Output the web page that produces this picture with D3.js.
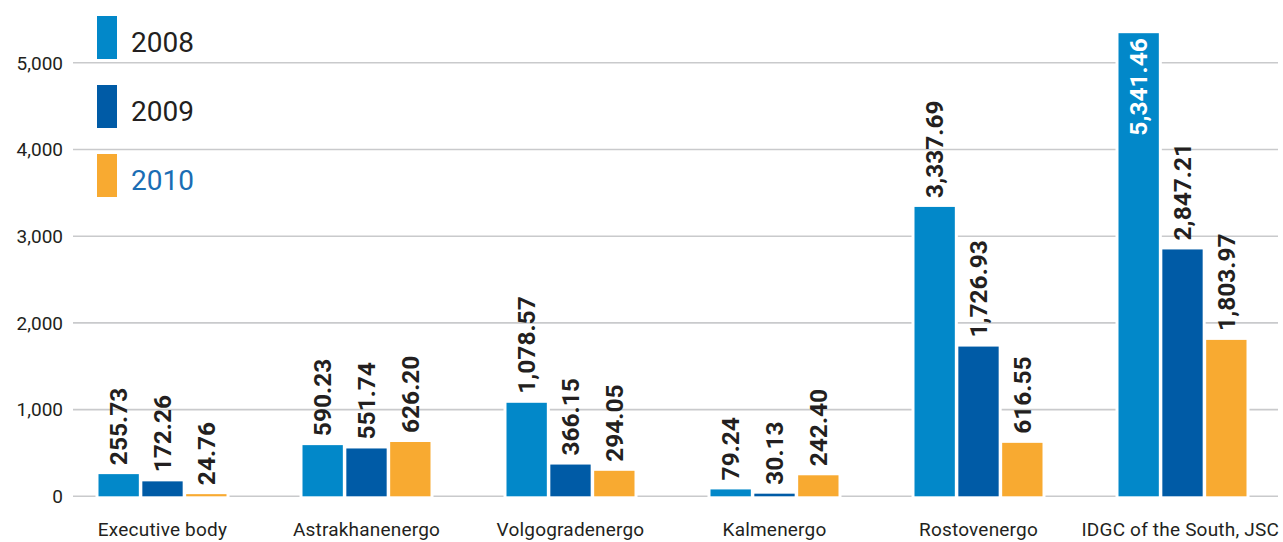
<!DOCTYPE html>
<meta charset="utf-8">
<script src="https://d3js.org/d3.v7.min.js"></script>
<style>
body { margin: 0; background: #fff; }
text { font-family: Roboto, "DejaVu Sans", sans-serif; }
</style>
<div id="chart"></div>
<script>
// data
var companies = ["Executive body", "Astrakhanenergo", "Volgogradenergo", "Kalmenergo", "Rostovenergo", "IDGC of the South, JSC"];
var years = ["2008", "2009", "2010"];
var v2008 = [255.73, 590.23, 1078.57, 79.24, 3337.69, 5341.46];
var v2009 = [172.26, 551.74, 366.15, 30.13, 1726.93, 2847.21];
var v2010 = [24.76, 626.20, 294.05, 242.40, 616.55, 1803.97];
var yTicks = [0, 1000, 2000, 3000, 4000, 5000];

var colors = { "2008": "#0288c9", "2009": "#005ba6", "2010": "#f8aa31" };
var series = { "2008": v2008, "2009": v2009, "2010": v2010 };

var width = 1283, height = 542;

var svg = d3.select("#chart").append("svg")
  .attr("width", width)
  .attr("height", height);

var x = d3.scaleBand()
  .domain(companies)
  .range([60.5, 1284.5]);

var xIn = d3.scaleBand()
  .domain(years)
  .range([-64, 64])
  .paddingInner(0.08);

var y = d3.scaleLinear()
  .domain([0, 5000])
  .range([496.3, 62.8]);

// gridlines
svg.append("g")
  .selectAll("line")
  .data(yTicks)
  .join("line")
    .attr("x1", 73)
    .attr("x2", 1278)
    .attr("y1", function(d) { return y(d); })
    .attr("y2", function(d) { return y(d); })
    .attr("stroke", "#c9cacc")
    .attr("stroke-width", 1.6);

// tick labels
svg.append("g")
  .selectAll("text")
  .data(yTicks)
  .join("text")
    .attr("x", 63)
    .attr("y", function(d) { return y(d); })
    .attr("dy", "0.36em")
    .attr("text-anchor", "end")
    .attr("font-size", 19)
    .attr("fill", "#231f20")
    .text(function(d) { return d3.format(",")(d); });

// flatten values
var rows = [];
companies.forEach(function(c, i) {
  years.forEach(function(yr) {
    rows.push({ company: c, year: yr, value: series[yr][i] });
  });
});

function bx(d) { return x(d.company) + x.bandwidth() / 2 + xIn(d.year); }

// white halo behind bars (cuts the gridlines)
svg.append("g")
  .selectAll("rect")
  .data(rows)
  .join("rect")
    .attr("x", function(d) { return bx(d) - 3; })
    .attr("width", xIn.bandwidth() + 6)
    .attr("y", function(d) { return y(d.value) - 3; })
    .attr("height", function(d) { return y(0) - y(d.value) + 5; })
    .attr("fill", "#fff");

// bars
svg.append("g")
  .selectAll("rect")
  .data(rows)
  .join("rect")
    .attr("x", bx)
    .attr("width", xIn.bandwidth())
    .attr("y", function(d) { return y(d.value); })
    .attr("height", function(d) { return Math.max(2, y(0) - y(d.value)); })
    .attr("fill", function(d) { return colors[d.year]; });

// value labels
var fmt = d3.format(",.2f");
svg.append("g")
  .selectAll("text")
  .data(rows)
  .join("text")
    .attr("transform", function(d) {
      var inside = d.value > 5000;
      var ty = inside ? y(d.value) + 5 : y(d.value) - 9;
      return "translate(" + (bx(d) + xIn.bandwidth() / 2 + 8.5) + "," + ty + ") rotate(-90)";
    })
    .attr("text-anchor", function(d) { return d.value > 5000 ? "end" : "start"; })
    .attr("font-size", 24.5)
    .attr("font-weight", "bold")
    .attr("fill", function(d) { return d.value > 5000 ? "#fff" : "#231f20"; })
    .text(function(d) { return fmt(d.value); });

// category labels
svg.append("g")
  .selectAll("text")
  .data(companies)
  .join("text")
    .attr("x", function(d) { return x(d) + x.bandwidth() / 2; })
    .attr("y", 536)
    .attr("text-anchor", "middle")
    .attr("font-size", 19)
    .attr("letter-spacing", 0.2)
    .attr("fill", "#231f20")
    .text(function(d) { return d; })
    .each(function() {
      // keep the last label inside the frame
      var b = this.getBBox();
      if (b.x + b.width > 1279) {
        d3.select(this).attr("x", +d3.select(this).attr("x") - (b.x + b.width - 1279));
      }
    });

// legend
var legend = svg.append("g")
  .selectAll("g")
  .data(years)
  .join("g")
    .attr("transform", function(d, i) { return "translate(97," + (16 + i * 69) + ")"; });

legend.append("rect")
  .attr("width", 20)
  .attr("height", 43)
  .attr("fill", function(d) { return colors[d]; });

legend.append("text")
  .attr("x", 34)
  .attr("y", 36)
  .attr("font-size", 28)
  .attr("fill", function(d) { return d === "2010" ? "#1a6db4" : "#231f20"; })
  .text(function(d) { return d; });
</script>
